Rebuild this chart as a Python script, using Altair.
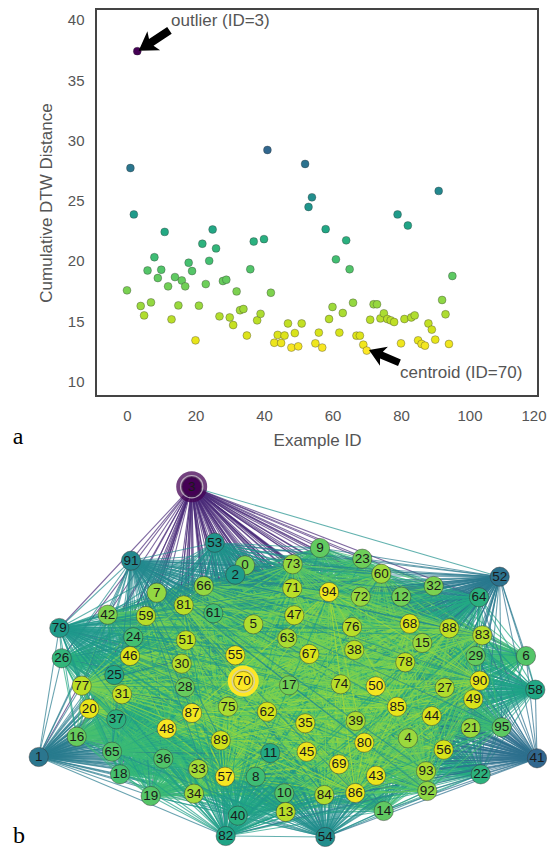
import altair as alt
import pandas as pd

alt.data_transformers.disable_max_rows()

# Cumulative DTW distance by example ID (index = ID)
dist = [17.55,27.7,23.85,37.4,16.25,15.47,19.2,16.55,20.3,18.57,
        19.26,22.4,17.88,15.14,18.65,16.3,18.37,17.88,19.84,19.15,
        13.4,16.28,21.42,18.07,20.0,22.6,21.03,15.39,18.32,18.43,
        15.3,14.67,17.46,15.9,16.0,13.8,19.3,21.6,15.06,15.6,
        21.8,29.2,17.35,13.2,13.85,13.18,13.8,14.8,12.8,14.0,
        12.9,14.8,28.04,24.47,25.27,13.15,14.04,12.8,22.63,15.17,
        16.17,20.12,14.04,15.67,21.7,19.3,16.52,13.79,13.79,13.04,
        12.55,15.11,16.39,16.39,15.22,15.64,15.17,15.06,14.92,23.85,
        13.15,15.17,22.93,15.3,15.47,13.4,13.1,12.96,14.8,14.29,
        13.46,25.8,16.75,15.56,13.1,18.74]

# Network layout (index = ID)
node_x = [245,38.7,235.3,191.7,408,253.3,526,156.7,255.7,320,
          284.3,270.3,401.3,285.7,383.7,422.3,76.7,289,120,150.7,
          89.3,470.7,480.7,362.3,133.3,114.3,61.7,444.7,185,475.7,
          181.7,122,433.7,198.3,194,305.3,163.3,116.3,354.3,355.7,
          237.7,537,107.7,376,431.7,306.7,130,294.3,166.7,473.3,
          375.7,186,499.7,214.7,325.3,235.3,443.7,225,535.3,146,
          381.3,213.3,267,287.3,479,112,203.7,309.3,409.7,339,
          243.3,292.3,360.7,292.7,340.7,228,352,81.7,405.3,59.3,
          364.3,183.7,225.7,482.3,324.3,397,355.3,192,449.3,220.7,
          479.7,131,427.3,426,329,501.7]
node_y = [565.3,757,574.7,486.7,738.3,624.3,656,592.7,776.7,548,
          793.3,753,596.7,812,811,643,736.7,685.3,774.3,796,
          708.7,728,774.3,558.7,637.3,675,658.3,687.7,687.3,656,
          663.7,694.3,586,769,793.7,723.3,758.7,719.3,650,721,
          815.7,758.3,614.7,775.7,716,751.7,656,615.3,728.7,699.3,
          686.3,640.3,576.7,542.7,837,655.3,749.7,776.7,689.7,616,
          573.7,613.3,711.7,638.3,597.3,751.7,586,654,623.7,764.3,
          681,588.3,596.7,564.3,684.3,706.7,627,685.7,662.3,628,
          742.7,605.3,836,635.3,795,706.7,793,713,628.3,740.3,
          680.7,560.7,791,771.3,592,727.3]
halo_ids = [3, 70]
halo_alpha = [0.75, 1.0]
edge_overrides = {(3, 52): 25.0}

x_ticks = [0, 20, 40, 60, 80, 100, 120]
y_ticks = [10, 15, 20, 25, 30, 35, 40]
x_domain = [-9.05, 120]
y_domain = [8.78, 40.9]
annot_labels = ["outlier (ID=3)", "centroid (ID=70)"]
annot_x = [12.85, 79.7]
annot_y = [39.9, 10.69]
arrow_x = [7.9, 75.1]
arrow_y = [38.28, 12.07]
arrow_angle = [236.3, 292.8]
arrow_size = [1369, 1089]

ids = list(range(len(dist)))
scatter_df = pd.DataFrame({"id": ids, "dist": dist})
nodes_df = pd.DataFrame({"id": ids, "px": node_x, "py": node_y, "dist": dist})
halo_df = nodes_df[nodes_df["id"].isin(halo_ids)].assign(alpha=halo_alpha)

edges = []
for i in ids:
    for j in ids:
        if i < j:
            w = edge_overrides.get((i, j), max(dist[i], dist[j]))
            edges.append((node_x[i], node_y[i], node_x[j], node_y[j], w))
edges_df = pd.DataFrame(edges, columns=["x", "y", "x2", "y2", "w"])

FONT = "Liberation Sans"
GREY = "#555555"
fill_scale = alt.Scale(scheme="viridis", domain=[37.4, 12.55])
edge_scale = alt.Scale(scheme="viridis", domain=[41, 9])

sx = alt.Scale(domain=x_domain, range=[88, 530], nice=False, zero=False)
sy = alt.Scale(domain=y_domain, range=[388, 1], nice=False, zero=False)

x_enc = alt.X("id:Q", scale=sx, title="Example ID",
              axis=alt.Axis(values=x_ticks, offset=-451, grid=False, domain=False, ticks=False,
                            labelFlush=True, labelFlushOffset=8, labelBound=False,
                            labelFont=FONT, labelFontSize=15, labelColor=GREY, labelPadding=12,
                            titleFont=FONT, titleFontSize=17, titleFontWeight="normal",
                            titleColor=GREY, titlePadding=9))
y_enc = alt.Y("dist:Q", scale=sy, title="Cumulative DTW Distance",
              axis=alt.Axis(values=y_ticks, offset=-88, grid=False, domain=False, ticks=False,
                            labelFlush=False, labelBound=False,
                            labelFont=FONT, labelFontSize=15, labelColor=GREY, labelPadding=12,
                            titleFont=FONT, titleFontSize=17, titleFontWeight="normal",
                            titleColor=GREY, titlePadding=12))

points = alt.Chart(scatter_df).mark_point(filled=True, size=62, opacity=1, stroke="#333333",
                                          strokeWidth=0.7, strokeOpacity=0.5).encode(
    x=x_enc, y=y_enc,
    fill=alt.Fill("dist:Q", scale=fill_scale, legend=None))

frame_df = pd.DataFrame({"id": [x_domain[0]], "id2": [x_domain[1]],
                         "dist": [y_domain[0]], "dist2": [y_domain[1]]})
frame = alt.Chart(frame_df).mark_rect(fillOpacity=0, stroke="#444444", strokeWidth=2).encode(
    x=alt.X("id:Q", scale=sx), x2="id2:Q", y=alt.Y("dist:Q", scale=sy), y2="dist2:Q")

annot_df = pd.DataFrame({"id": annot_x, "dist": annot_y, "label": annot_labels})
annots = alt.Chart(annot_df).mark_text(align="left", baseline="middle", font=FONT, fontSize=17,
                                       color=GREY).encode(
    x=alt.X("id:Q", scale=sx), y=alt.Y("dist:Q", scale=sy), text="label:N")

ARROW = "M0,-1 L0.62,-0.02 L0.22,-0.18 L0.22,1 L-0.22,1 L-0.22,-0.18 L-0.62,-0.02 Z"
arrows = []
for k in range(2):
    a_df = pd.DataFrame({"id": [arrow_x[k]], "dist": [arrow_y[k]]})
    arrows.append(alt.Chart(a_df).mark_point(shape=ARROW, filled=True, fill="black", opacity=1,
                                             strokeWidth=0, size=arrow_size[k],
                                             angle=arrow_angle[k]).encode(
        x=alt.X("id:Q", scale=sx), y=alt.Y("dist:Q", scale=sy)))

scatter = alt.layer(points, frame, annots, *arrows)

nx = alt.Scale(domain=[0, 555], range=[-8, 547], nice=False, zero=False)
ny = alt.Scale(domain=[0, 855], range=[-8, 847], nice=False, zero=False)
X = alt.X("px:Q", scale=nx, axis=None)
Y = alt.Y("py:Q", scale=ny, axis=None)

edge_marks = alt.Chart(edges_df).mark_rule(strokeWidth=1.1, opacity=0.7).encode(
    x=alt.X("x:Q", scale=nx, axis=None), x2="x2:Q",
    y=alt.Y("y:Q", scale=ny, axis=None), y2="y2:Q",
    stroke=alt.Stroke("w:Q", scale=edge_scale, legend=None))

halos = alt.Chart(halo_df).mark_point(filled=True, size=960, strokeWidth=0).encode(
    x=X, y=Y, fill=alt.Fill("dist:Q", scale=fill_scale, legend=None),
    opacity=alt.Opacity("alpha:Q", scale=None, legend=None))
node_marks = alt.Chart(nodes_df).mark_point(filled=True, size=370, opacity=1, stroke="#333333",
                                            strokeWidth=0.9, strokeOpacity=0.5).encode(
    x=X, y=Y, fill=alt.Fill("dist:Q", scale=fill_scale, legend=None))
rings = alt.Chart(halo_df).mark_point(filled=False, size=500, opacity=0.8, stroke="#cccccc",
                                      strokeWidth=1.2).encode(x=X, y=Y)
node_labels = alt.Chart(nodes_df).mark_text(font=FONT, fontSize=13.5, color="#1a1a1a",
                                            baseline="middle", align="center").encode(
    x=X, y=Y, text="id:Q")

panel_df = pd.DataFrame({"px": [18, 19], "py": [437, 836], "label": ["a", "b"]})
panel_labels = alt.Chart(panel_df).mark_text(font="Liberation Serif", fontSize=24, color="black",
                                             baseline="middle", align="center").encode(
    x=X, y=Y, text="label:N")

network = alt.layer(edge_marks, halos, node_marks, rings, node_labels, panel_labels)

chart = alt.layer(scatter, network).resolve_scale(x="independent", y="independent").properties(
    width=539, height=839, padding=0,
    autosize=alt.AutoSizeParams(type="none", contains="padding"),
    background="white",
).configure_view(strokeWidth=0)

chart.save("out.html", embed_options={"renderer": "svg", "actions": False})
